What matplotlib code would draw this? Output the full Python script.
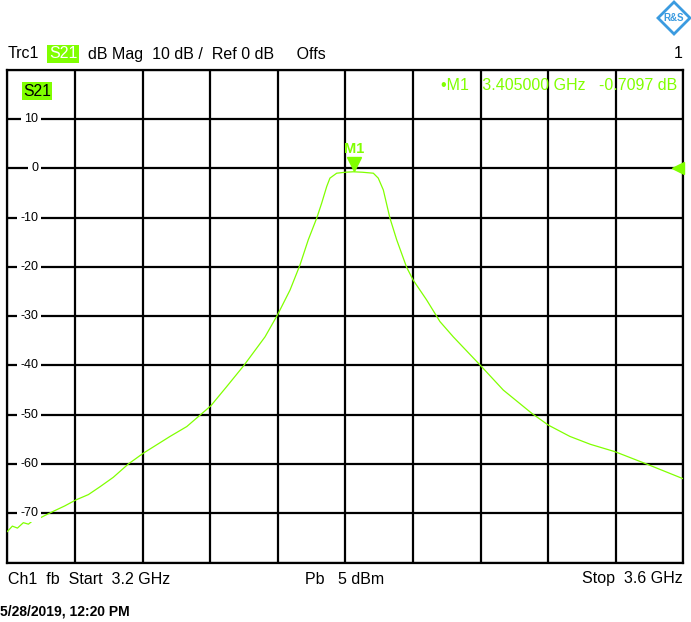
import numpy as np
import matplotlib
matplotlib.use('Agg')
import matplotlib.pyplot as plt
from matplotlib.patches import Polygon

plt.rcParams['font.family'] = ['Liberation Sans', 'DejaVu Sans']

# S21 trace (GHz, dB)
freq = [3.2000, 3.2030, 3.2060, 3.2095, 3.2125, 3.2154, 3.2190, 3.2225, 3.2272,
        3.2340, 3.2405, 3.2480, 3.2549, 3.2627, 3.2716, 3.2805, 3.2963, 3.3062,
        3.3204, 3.3298, 3.3400, 3.3525, 3.3598, 3.3673, 3.3732, 3.3781, 3.3831,
        3.3860, 3.3890, 3.3909, 3.3949, 3.4000, 3.4047, 3.4100, 3.4166, 3.4195,
        3.4225, 3.4264, 3.4304, 3.4363, 3.4402, 3.4481, 3.4560, 3.4639, 3.4797,
        3.4935, 3.5103, 3.5201, 3.5329, 3.5450, 3.5596, 3.5783, 3.6000]
s21_db = [-73.7, -72.6, -73.0, -71.9, -72.2, -71.4, -71.0, -70.4, -69.6,
          -68.5, -67.3, -66.2, -64.6, -62.7, -60.0, -57.8, -54.4, -52.4,
          -48.2, -44.3, -40.0, -34.2, -29.8, -24.7, -19.6, -14.5, -10.1,
          -7.1, -3.7, -2.0, -1.0, -0.8, -0.71, -0.8, -1.0, -2.0,
          -4.4, -10.1, -14.5, -20.1, -22.7, -26.7, -31.1, -34.2, -39.9,
          -45.0, -49.7, -52.1, -54.4, -56.0, -57.5, -60.0, -63.0]

ytick_vals = [10, 0, -10, -20, -30, -40, -50, -60, -70]
m1_freq = 3.405
m1_db = -0.7097

green = '#80ff00'
W, H = 691, 622


def fx(x):
    return x / W


def fy(y):
    return 1 - y / H


fig = plt.figure(figsize=(6.91, 6.22), dpi=100)
ax = fig.add_axes([fx(7.3), fy(562.6), 676 / W, (562.6 - 69.7) / H])

ax.set_xlim(3.2, 3.6)
ax.set_ylim(-80, 20)
ax.set_xticks(np.linspace(3.2, 3.6, 11))
ax.set_yticks(np.arange(-80, 21, 10))
ax.tick_params(length=0, labelbottom=False, labelleft=False)
ax.grid(True, color='black', lw=1.6)
for s in ax.spines.values():
    s.set_linewidth(1.6)

ax.plot(freq, s21_db, color=green, lw=0.9, zorder=3)

# y labels drawn inside the grid
for v in ytick_vals:
    ax.text(3.2182, v, '-' + str(abs(v)) if v < 0 else str(v), ha='right', va='center',
            fontsize=9, bbox=dict(facecolor='white', edgecolor='none', pad=2.2), zorder=4)

# marker M1
ax.plot([m1_freq], [m1_db + 1.6], marker='v', ms=10, color=green, mec=green, zorder=5)
ax.text(m1_freq, m1_db + 3.3, 'M1', color=green, ha='center', va='bottom',
        fontsize=10.5, fontweight='bold', zorder=5)

# reference level arrow at right edge
ax.plot([3.5968], [0], marker='<', ms=9, color=green, mec=green, clip_on=False, zorder=5)

# trace label box
fig.text(fx(23), fy(91), 'S21', fontsize=11.3, va='center', ha='left', color='black',
         bbox=dict(facecolor=green, edgecolor='none', pad=1))

# marker readout
fig.text(fx(677), fy(86), '\u2022M1   3.405000 GHz   -0.7097 dB', color=green, fontsize=11.5,
         ha='right', va='center')

# header
fig.text(fx(8), fy(54), 'Trc1', fontsize=11.5, va='center')
fig.text(fx(49), fy(54), 'S21', fontsize=11.5, va='center', color='white',
         bbox=dict(facecolor=green, edgecolor='none', pad=1.2))
fig.text(fx(88), fy(54), 'dB Mag  10 dB /  Ref 0 dB     Offs', fontsize=11.5, va='center')
fig.text(fx(683), fy(54), '1', fontsize=11.5, va='center', ha='right')

# footer
fig.text(fx(8), fy(579), 'Ch1  fb  Start  3.2 GHz', fontsize=11.5, va='center')
fig.text(fx(345), fy(579), 'Pb   5 dBm', fontsize=11.5, va='center', ha='center')
fig.text(fx(683), fy(579), 'Stop  3.6 GHz', fontsize=11.5, va='center', ha='right')
fig.text(fx(0), fy(611), '5/28/2019, 12:20 PM', fontsize=10, va='center',
         fontweight='bold')

# R&S logo
cx, cy, r = 674, 18, 16
logo = Polygon([(fx(cx), fy(cy - r)), (fx(cx + r), fy(cy)), (fx(cx), fy(cy + r)),
                (fx(cx - r), fy(cy))], closed=True, transform=fig.transFigure,
               facecolor='white', edgecolor='#3b9be0', lw=2)
fig.patches.append(logo)
fig.text(fx(cx), fy(cy), 'R&S', color='#3b9be0', fontsize=7, fontweight='bold',
         ha='center', va='center')

fig.savefig('out.png', dpi=100)
